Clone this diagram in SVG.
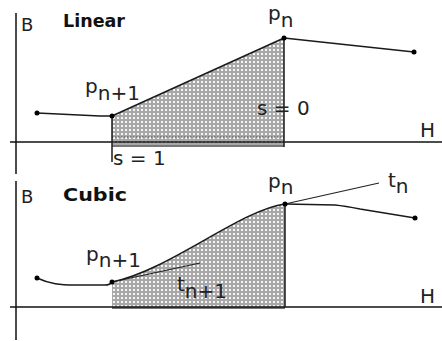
<svg xmlns="http://www.w3.org/2000/svg" width="442" height="341" viewBox="0 0 442 341">
<defs>
<pattern id="grid" width="4" height="4" patternUnits="userSpaceOnUse">
<rect width="4" height="4" fill="#a8a8a8"/>
<rect x="1" y="1" width="2" height="2" fill="#f6f6f6"/>
</pattern>
</defs>
<style>
.ax{stroke:#111;stroke-width:1.5;fill:none}
.ln{stroke:#1a1a1a;stroke-width:1.5;fill:none}
.thin{stroke:#222;stroke-width:1.2;fill:none}
.dot{fill:#000}
.lbl{font-family:"DejaVu Sans",sans-serif;font-size:20px;fill:#222}
.ttl{font-family:"DejaVu Sans",sans-serif;font-size:17px;font-weight:bold;fill:#111}
.ax-l{font-family:"DejaVu Sans",sans-serif;font-size:18px;fill:#222}
</style>
<rect width="442" height="341" fill="#fff"/>

<g id="linear-panel">
<path d="M112,116 L284,38 L284,147 L112,147 Z" fill="url(#grid)"/>
<line x1="112" y1="137" x2="284" y2="137" stroke="#555" stroke-width="1.2" stroke-dasharray="1.5,1.5"/>
<line x1="112" y1="146" x2="284" y2="146" stroke="#777" stroke-width="2"/>
<line class="ax" x1="16" y1="13" x2="16" y2="174"/>
<line class="ax" x1="10" y1="142" x2="442" y2="142"/>
<text class="ax-l" x="21" y="31">B</text>
<text class="ttl" x="63" y="27" textLength="62" lengthAdjust="spacingAndGlyphs">Linear</text>
<text class="lbl" x="420" y="137">H</text>
</g>

<g id="cubic-panel">
<path d="M112,282 C170,270 240,210 285,204 L285,308 L112,308 Z" fill="url(#grid)"/>
<line x1="112" y1="308" x2="285" y2="308" stroke="#777" stroke-width="2"/>
<line class="ax" x1="16" y1="181" x2="16" y2="340"/>
<line class="ax" x1="10" y1="307" x2="442" y2="307"/>
<text class="ax-l" x="21" y="203">B</text>
<text class="ttl" x="63" y="201" textLength="64" lengthAdjust="spacingAndGlyphs">Cubic</text>
<text class="lbl" x="420" y="303">H</text>
</g>

<g id="connectors">
<path class="ln" d="M37,113 L100,116 L112,116"/>
<path class="ln" d="M112,116 L284,38"/>
<path class="ln" d="M284,38 L321,42 L414,52"/>
<line class="ln" x1="112" y1="116" x2="112" y2="162"/>
<line class="ln" x1="284" y1="38" x2="284" y2="147"/>

<path class="ln" d="M37,278 C50,284 60,285 75,285 L105,285 Q110,285 112,282"/>
<path class="ln" d="M112,282 C170,270 240,210 285,204"/>
<path class="ln" d="M285,204 L335,205 Q345,206 360,209 L415,218"/>
<line class="ln" x1="285" y1="204" x2="285" y2="307"/>
<line class="thin" x1="112" y1="282" x2="200" y2="263"/>
<line class="thin" x1="285" y1="204" x2="379" y2="183"/>
</g>

<g id="points">
<circle class="dot" cx="37" cy="113" r="2.5"/>
<circle class="dot" cx="112" cy="116" r="2.5"/>
<circle class="dot" cx="284" cy="38" r="2.5"/>
<circle class="dot" cx="414" cy="52" r="2.5"/>
<circle class="dot" cx="37" cy="278" r="2.5"/>
<circle class="dot" cx="112" cy="282" r="2.5"/>
<circle class="dot" cx="285" cy="204" r="2.5"/>
<circle class="dot" cx="415" cy="218" r="2.5"/>
</g>

<g id="labels">
<text class="lbl" x="268" y="20">p<tspan dy="7">n</tspan></text>
<text class="lbl" x="85" y="93">p<tspan dy="7">n+1</tspan></text>
<text class="lbl" x="257" y="115">s = 0</text>
<text class="lbl" x="113" y="165">s = 1</text>
<text class="lbl" x="268" y="188">p<tspan dy="6">n</tspan></text>
<text class="lbl" x="86" y="261">p<tspan dy="6">n+1</tspan></text>
<text class="lbl" x="388" y="187">t<tspan dy="6">n</tspan></text>
<text class="lbl" x="177" y="291">t<tspan dy="7">n+1</tspan></text>
</g>
</svg>
